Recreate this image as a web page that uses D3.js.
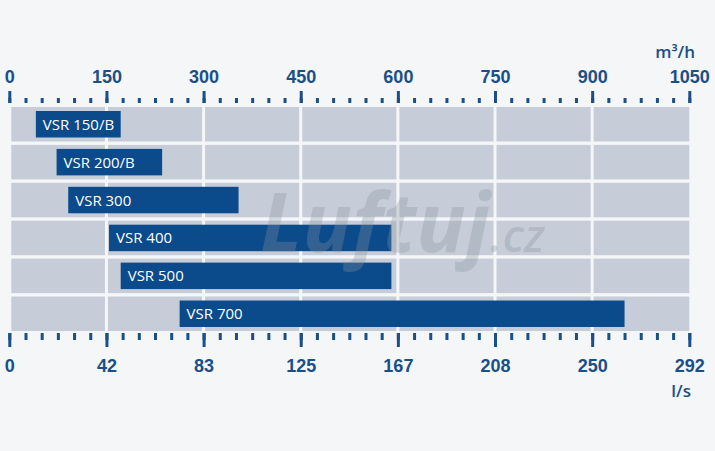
<!DOCTYPE html>
<meta charset="utf-8">
<script src="https://d3js.org/d3.v7.min.js"></script>
<style>
  body { margin: 0; background: #f4f6f8; }
  svg { display: block; font-family: "Open Sans", sans-serif; }
</style>
<body>
<script>

// DATA

var models = ["VSR 150/B", "VSR 200/B", "VSR 300", "VSR 400", "VSR 500", "VSR 700"];
var flowMin = [41, 73, 91, 154, 172, 263];     // m3/h
var flowMax = [172, 236, 354, 590, 590, 950];  // m3/h
var topTicks = [0, 150, 300, 450, 600, 750, 900, 1050];
var bottomTicks = [0, 42, 83, 125, 167, 208, 250, 292];

var width = 715;
var height = 451;

var blue = "#0b4a8b";
var textBlue = "#1b4f88";
var panel = "#c6cdd8";
var bg = "#f4f6f8";

var svg = d3.select("body").append("svg")
    .attr("width", width)
    .attr("height", height);

svg.append("rect").attr("width", width).attr("height", height).attr("fill", bg);

// SCALES

var x = d3.scaleLinear().domain([0, 1050]).range([9.3, 689.3]);
var xls = d3.scaleLinear().domain([0, 1050 / 3.6]).range(x.range());

var y = d3.scaleBand()
    .domain(models)
    .range([107, 331])
    .paddingInner(0.09);

// ROWS

svg.selectAll("rect.row")
  .data(models)
  .enter().append("rect")
    .attr("class", "row")
    .attr("x", x(0) + 2)
    .attr("width", x(1050) - x(0) - 2)
    .attr("y", function (d) { return y(d); })
    .attr("height", y.bandwidth())
    .attr("fill", panel);

svg.selectAll("line.grid")
  .data(topTicks.slice(1, -1))
  .enter().append("line")
    .attr("class", "grid")
    .attr("x1", function (d) { return x(d); })
    .attr("x2", function (d) { return x(d); })
    .attr("y1", 104)
    .attr("y2", 332)
    .attr("stroke", bg)
    .attr("stroke-width", 3);

// BARS

var data = models.map(function (m, i) { return { name: m, lo: flowMin[i], hi: flowMax[i] }; });

svg.selectAll("rect.bar")
  .data(data)
  .enter().append("rect")
    .attr("class", "bar")
    .attr("x", function (d) { return x(d.lo); })
    .attr("width", function (d) { return x(d.hi) - x(d.lo); })
    .attr("y", function (d) { return y(d.name) + 4; })
    .attr("height", y.bandwidth() - 8)
    .attr("fill", blue);

svg.selectAll("text.label")
  .data(data)
  .enter().append("text")
    .attr("class", "label")
    .attr("x", function (d) { return x(d.lo) + 7; })
    .attr("y", function (d) { return y(d.name) + y.bandwidth() / 2 + 5.5; })
    .attr("fill", "#ffffff")
    .style("font-size", "15px")
    .text(function (d) { return d.name; });

// WATERMARK (sits over the bars, semi transparent)

var wm = svg.append("text")
    .attr("x", 260)
    .attr("y", 252)
    .attr("fill", "#8a939f")
    .attr("fill-opacity", 0.32)
    .style("font-style", "italic")
    .style("font-weight", 700)
    .style("font-size", "82px");
wm.append("tspan").text("Luftuj");
wm.append("tspan").style("font-size", "46px").style("font-weight", 600).text(".cz");

// AXES

function styleAxis(g) {
  g.select(".domain").remove();
  g.selectAll(".tick line").attr("stroke", textBlue).attr("stroke-width", 3);
}

var minor = d3.range(0, 1051, 25);

svg.append("g")
    .attr("transform", "translate(0,103)")
    .call(d3.axisTop(x).tickValues(minor).tickSize(5).tickFormat(""))
    .call(styleAxis);

svg.append("g")
    .attr("transform", "translate(0,103)")
    .call(d3.axisTop(x).tickValues(topTicks).tickSize(12).tickFormat(d3.format("d")))
    .call(styleAxis)
    .call(function (g) {
      g.selectAll(".tick text")
        .attr("y", -20)
        .attr("dy", 0)
        .attr("fill", textBlue)
        .style("font-size", "18px")
        .style("font-weight", 600);
    });

svg.append("g")
    .attr("transform", "translate(0,333)")
    .call(d3.axisBottom(x).tickValues(minor).tickSize(7).tickFormat(""))
    .call(styleAxis);

svg.append("g")
    .attr("transform", "translate(0,333)")
    .call(d3.axisBottom(xls)
      .tickValues(topTicks.map(function (v) { return v / 3.6; }))
      .tickSize(14)
      .tickFormat(function (d, i) { return bottomTicks[i]; }))
    .call(styleAxis)
    .call(function (g) {
      g.selectAll(".tick text")
        .attr("y", 39)
        .attr("dy", 0)
        .attr("fill", textBlue)
        .style("font-size", "18px")
        .style("font-weight", 600);
    });

// UNITS

svg.append("text")
    .attr("x", 695)
    .attr("y", 58)
    .attr("text-anchor", "end")
    .attr("fill", textBlue)
    .style("font-size", "17px")
    .style("font-weight", 600)
    .text("m³/h");

svg.append("text")
    .attr("x", 691)
    .attr("y", 397)
    .attr("text-anchor", "end")
    .attr("fill", textBlue)
    .style("font-size", "17px")
    .style("font-weight", 600)
    .text("l/s");

</script>
</body>
